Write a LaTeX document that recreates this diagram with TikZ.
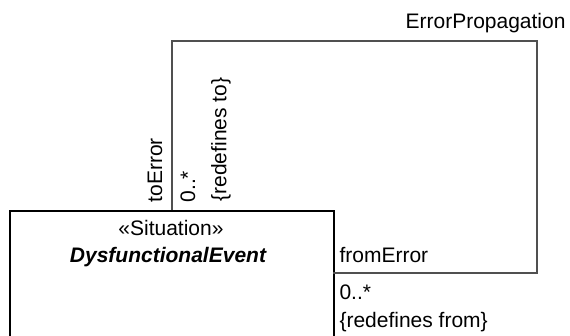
\documentclass[tikz,border=0pt]{standalone}
\usepackage{fontspec}
\setmainfont{Liberation Sans}
\tikzset{every picture/.style={line width=0.75pt}}
\tikzset{
  umltext/.style={inner sep=0.75pt, text=black, font=\fontsize{15.75}{18}\selectfont},
  classbox/.style={draw=black, line width=1.5pt, fill=white, inner sep=0pt},
  assoc/.style={draw={rgb, 255:red, 80; green, 80; blue, 80}, line width=1.5pt}
}

\begin{document}
\begin{tikzpicture}[x=0.75pt,y=0.75pt,yscale=-1,xscale=1]
\useasboundingbox (0,0) rectangle (570,335);
\clip (0,0) rectangle (570,335);
%Class box, runs on below the picture
\node [classbox, anchor=north west, minimum width=243pt, minimum height=150pt] (event) at (9,210) {};
% Text Node
\node [umltext] (stereo) at (171,228) {«Situation»};
% Text Node
\node [umltext, font=\fontsize{15.75}{18}\selectfont\bfseries\itshape] (evname) at (168,257) {DysfunctionalEvent};
%Self association
\coordinate (loopTop) at (537,41);
\coordinate (fromEnd) at (333,273);
\draw [assoc] (event.north) |- (loopTop) |- (fromEnd);
% Text Node
\node [umltext, anchor=east] (assocname) at (567,23) {ErrorPropagation};
% Text Node
\node [umltext, rotate=90, anchor=west] (toRole) at (155,204) {toError};
% Text Node
\node [umltext, rotate=90, anchor=west] (toMult) at (188,204) {0..*};
% Text Node
\node [umltext, rotate=90, anchor=west] (toRedef) at (221,203) {\{redefines to\}};
% Text Node
\node [umltext, anchor=west] (fromRole) at (338,255) {fromError};
% Text Node
\node [umltext, anchor=west] (fromMult) at (338,292) {0..*};
% Text Node
\node [umltext, anchor=west] (fromRedef) at (338,322) {\{redefines from\}};
\end{tikzpicture}
\end{document}
